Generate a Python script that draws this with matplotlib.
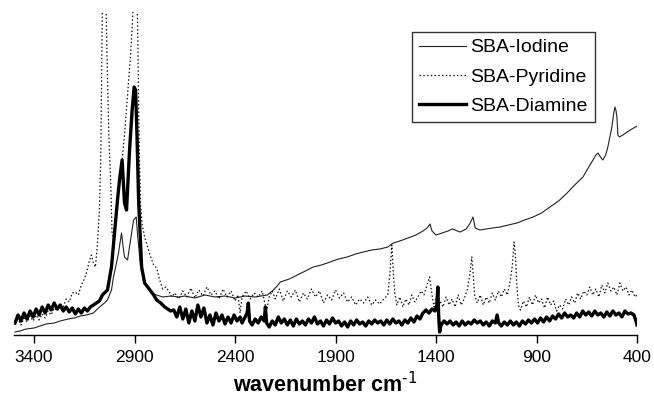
import matplotlib
matplotlib.use("Agg")
import matplotlib.pyplot as plt

plt.rcParams['font.family'] = ['Liberation Sans', 'DejaVu Sans']
plt.rcParams['axes.unicode_minus'] = False

# FTIR spectra, wavenumber (cm-1) vs intensity (arbitrary units)
iodine_wn = [3495, 3470, 3440, 3400, 3370, 3340, 3300, 3270, 3230, 3200, 3170, 3140,
             3105, 3080, 3050, 3035, 3015, 3005, 2990, 2980, 2965, 2957, 2950, 2935,
             2920, 2905, 2892, 2885, 2870, 2855, 2835, 2815, 2790, 2760, 2720, 2680,
             2650, 2600, 2550, 2500, 2450, 2400, 2350, 2300, 2240, 2215, 2190, 2175,
             2130, 2090, 2050, 2011, 1970, 1927, 1885, 1842, 1800, 1762, 1720, 1680,
             1640, 1613, 1580, 1540, 1500, 1465, 1445, 1430, 1420, 1400, 1370, 1340,
             1320, 1280, 1250, 1230, 1216, 1205, 1181, 1150, 1120, 1081, 1040, 997,
             960, 917, 875, 833, 790, 748, 710, 669, 640, 619, 605, 594, 582, 570,
             556, 545, 535, 525, 517, 510, 505, 500, 495, 488, 470, 450, 425, 400]
iodine_int = [3, 4, 6, 7, 9, 11, 12, 14, 16, 17, 19, 20,
              22, 27, 32, 35, 45, 58, 72, 82, 102, 88, 78, 75,
              95, 115, 118, 100, 68, 55, 48, 42, 40, 38, 39, 38,
              39, 37, 40, 38, 39, 37, 39, 38, 40, 44, 49, 53,
              56, 60, 64, 68, 70, 73, 76, 78, 81, 83, 85, 86,
              88, 92, 94, 97, 100, 104, 107, 111, 104, 100, 102, 104,
              106, 103, 106, 112, 118, 107, 105, 106, 107, 108, 110, 112,
              115, 118, 122, 128, 134, 142, 150, 158, 168, 175, 180, 182, 178, 175,
              180, 188, 198, 208, 220, 228, 225, 218, 200, 198, 200, 203, 206, 209]

pyridine_wn = [3495, 3480, 3465, 3450, 3435, 3420, 3405, 3390, 3375, 3360, 3345, 3330,
               3315, 3300, 3285, 3270, 3255, 3240, 3225, 3210, 3195, 3180, 3165, 3150,
               3140, 3125, 3115, 3105, 3095, 3085, 3075, 3068, 3062, 3058, 3050, 3042,
               3036, 3028, 3022, 3018, 3012, 3005, 2995, 2985, 2970, 2950, 2935, 2920,
               2910, 2900, 2890, 2884, 2880, 2876, 2870, 2862, 2850, 2835, 2820, 2805,
               2790, 2775, 2760, 2745, 2730, 2715,
               2700, 2680, 2660, 2640, 2620, 2600, 2580, 2560, 2540, 2520, 2500, 2480,
               2460, 2440, 2420, 2400, 2385, 2375, 2365, 2345, 2325, 2305, 2285, 2265,
               2250, 2240, 2230, 2215, 2200, 2180, 2160, 2140, 2120, 2100, 2080, 2060,
               2040, 2020, 2000, 1980, 1960, 1940, 1920, 1900, 1880, 1860, 1840, 1820,
               1800, 1780, 1760, 1740, 1720, 1700, 1680, 1660, 1640, 1630, 1620, 1612,
               1605, 1595, 1580, 1565, 1550, 1535, 1520, 1505, 1490, 1475, 1460, 1445,
               1432, 1420, 1410, 1400, 1390, 1380, 1365, 1350, 1335, 1320, 1305, 1290,
               1275, 1260, 1245, 1232, 1222, 1215, 1208, 1195, 1180, 1165, 1150, 1135,
               1120, 1105, 1090, 1075, 1060, 1045, 1030, 1020, 1012, 1005, 998, 990,
               980, 965, 950, 935, 920, 905, 890, 875, 860, 845, 830, 815, 800, 785,
               770, 755, 740, 725, 710, 695, 680, 665, 650, 635, 620, 605, 590, 575,
               560, 545, 530, 515, 500, 485, 470, 455, 440, 425, 410, 400]
pyridine_int = [12, 16, 10, 17, 13, 19, 14, 20, 15, 21, 17, 24,
                20, 27, 24, 31, 28, 36, 33, 42, 43, 40, 50, 56,
                62, 74, 80, 72, 68, 90, 125, 180, 300, 370, 360, 330,
                268, 200, 168, 148, 102, 95, 118, 135, 160, 200, 240, 280,
                315, 360, 365, 300, 230, 180, 130, 110, 98, 88, 78, 70,
                67, 55, 46, 48, 44, 38,
                42, 36, 44, 38, 47, 37, 45, 39, 48, 40, 44, 36,
                46, 38, 44, 34, 40, 22, 38, 44, 36, 42, 38, 44,
                30, 27, 38, 44, 36, 46, 34, 44, 38, 45, 33, 42,
                36, 46, 38, 44, 32, 40, 35, 45, 37, 42, 33, 38,
                30, 36, 32, 38, 30, 35, 31, 36, 40, 60, 90, 60,
                42, 30, 38, 28, 36, 30, 40, 33, 38, 44, 40, 50,
                58, 40, 28, 36, 25, 34, 28, 38, 30, 36, 28, 40,
                30, 36, 45, 60, 78, 60, 40, 32, 40, 30, 38, 32,
                42, 35, 44, 38, 46, 40, 55, 70, 93, 80, 50, 30,
                25, 34, 28, 38, 30, 40, 32, 36, 27, 38, 30, 34, 24, 30,
                26, 36, 30, 38, 32, 42, 36, 44, 40, 48, 40, 46, 38, 50,
                42, 52, 44, 48, 40, 52, 44, 48, 40, 45, 38, 40]

diamine_wn = [3495, 3480, 3465, 3450, 3435, 3420, 3405, 3390, 3375, 3360, 3345, 3330,
              3315, 3300, 3285, 3270, 3255, 3240, 3225, 3210, 3195, 3180, 3165, 3150,
              3135, 3120, 3105, 3090, 3075, 3060, 3035, 3015, 3000, 2985, 2975, 2962,
              2955, 2950, 2940, 2925, 2912, 2902, 2895, 2888, 2880, 2865, 2850, 2835,
              2820, 2805, 2790, 2770, 2750, 2735, 2720, 2705,
              2690, 2675, 2660, 2645, 2630, 2615, 2600, 2585, 2570, 2555, 2540, 2525,
              2510, 2495, 2480, 2465, 2450, 2435, 2420, 2405, 2390, 2375, 2365, 2350,
              2340, 2334, 2328, 2315, 2300, 2285, 2270, 2255, 2249, 2243, 2230, 2215,
              2200, 2185, 2170, 2155, 2140, 2125, 2110, 2095, 2080, 2065, 2050, 2035,
              2020, 2005, 1990, 1975, 1960, 1945, 1930, 1915, 1900, 1885, 1870, 1855,
              1840, 1825, 1810, 1795, 1780, 1765, 1750, 1735, 1720, 1705, 1690, 1675,
              1660, 1645, 1630, 1615, 1600, 1585, 1570, 1555, 1540, 1525, 1510, 1495,
              1480, 1465, 1450, 1435, 1420, 1405, 1396, 1391, 1387, 1382, 1375, 1360,
              1345, 1330, 1315, 1300, 1285, 1270, 1255, 1240, 1225, 1210, 1195, 1180,
              1165, 1150, 1135, 1120, 1105, 1096, 1088, 1075, 1060, 1045, 1030, 1015,
              1000, 985, 970, 955, 940, 925, 910, 895, 880, 865, 850, 835, 820, 805,
              790, 775, 760, 745, 730, 715, 700, 685, 670, 655, 640, 625, 610, 595,
              580, 565, 550, 535, 520, 505, 490, 475, 460, 445, 430, 415, 405, 400]
diamine_int = [12, 20, 14, 22, 16, 24, 18, 26, 20, 28, 22, 30,
               25, 32, 26, 30, 24, 28, 23, 27, 21, 26, 22, 27,
               24, 28, 30, 32, 34, 40, 45, 68, 102, 135, 155, 175,
               150, 132, 125, 185, 225, 248, 245, 200, 135, 68, 52, 48,
               44, 40, 35, 32, 28, 26, 24, 25,
               18, 28, 16, 26, 12, 24, 14, 30, 18, 27, 12, 20,
               10, 22, 14, 20, 11, 18, 12, 20, 14, 18, 12, 18,
               22, 32, 14, 10, 16, 12, 18, 14, 28, 12, 8, 14,
               10, 18, 12, 16, 10, 15, 9, 16, 11, 14, 10, 16,
               12, 18, 11, 14, 9, 15, 11, 17, 12, 14, 9, 13,
               8, 14, 10, 15, 11, 13, 9, 14, 11, 15, 12, 14,
               10, 15, 11, 16, 12, 14, 10, 15, 12, 17, 13, 19,
               16, 22, 25, 22, 26, 24, 30, 48, 20, 3, 10, 14,
               11, 14, 10, 13, 9, 14, 10, 13, 11, 15, 12, 14,
               10, 13, 9, 14, 12, 20, 12, 9, 13, 10, 14, 10,
               13, 9, 14, 11, 15, 12, 16, 12, 17, 13, 18, 14, 19, 16,
               21, 17, 22, 18, 20, 17, 22, 18, 24, 20, 23, 19, 24, 20,
               22, 18, 23, 19, 24, 20, 22, 18, 24, 21, 22, 20, 14, 10]

fig = plt.figure(figsize=(6.54, 4.0), dpi=100)
ax = fig.add_axes([0.0214, 0.1625, 0.9526, 0.8075])

ax.plot(iodine_wn, iodine_int, color='#222222', lw=0.8, label='SBA-Iodine')
ax.plot(pyridine_wn, pyridine_int, color='#111111', lw=0.9, ls=(0, (1.2, 1.8)),
        label='SBA-Pyridine')
ax.plot(diamine_wn, diamine_int, color='black', lw=2.4, label='SBA-Diamine')

ax.set_xlim(3500, 400)
ax.set_ylim(0, 323)
ax.set_xticks([3400, 2900, 2400, 1900, 1400, 900, 400])
ax.set_yticks([])
for side in ['left', 'right', 'top']:
    ax.spines[side].set_visible(False)
ax.spines['bottom'].set_linewidth(1.0)
ax.tick_params(axis='x', direction='out', length=6, width=1.0, pad=5,
               labelsize=12.5, colors='black')
ax.set_xlabel(r'wavenumber cm$^{\text{-1}}$', fontsize=15.5,
              fontweight='bold', labelpad=5)

leg = ax.legend(loc='upper left', bbox_to_anchor=(0.639, 0.938), fontsize=14,
                frameon=True, fancybox=False, handlelength=2.4, handletextpad=0.25,
                labelspacing=0.6, borderpad=0.35, borderaxespad=0.0)
leg.get_frame().set_edgecolor('black')
leg.get_frame().set_linewidth(1.0)

fig.savefig('out.png', dpi=100)
